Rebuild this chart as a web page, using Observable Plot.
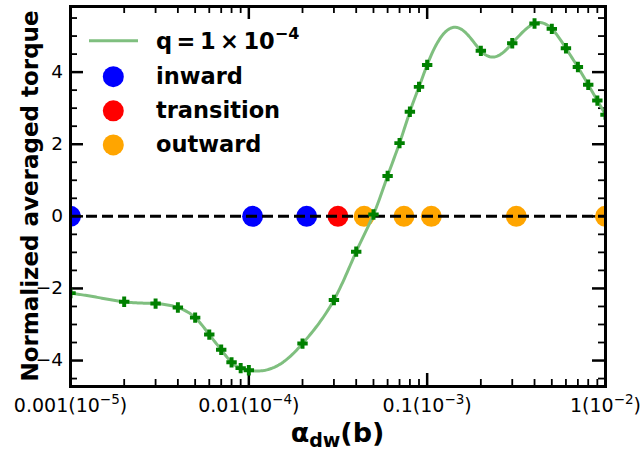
<!DOCTYPE html>
<html>
<head>
<meta charset="utf-8">
<script src="https://cdn.jsdelivr.net/npm/d3@7"></script>
<script src="https://cdn.jsdelivr.net/npm/@observablehq/plot@0.6"></script>
<style>
  html, body { margin: 0; padding: 0; background: white; }
  #chart { width: 644px; height: 452px; }
</style>
</head>
<body>
<div id="chart"></div>
<script>
// ---- data ----
const alphaX = [0.001,0.002,0.003,0.004,0.005,0.006,0.007,0.008,0.009,0.01,0.02,0.03,0.04,0.05,0.06,0.07,0.08,0.09,0.1,0.2,0.3,0.4,0.5,0.6,0.7,0.8,0.9,1.0];
const torqueY = [-2.13,-2.37,-2.42,-2.53,-2.81,-3.28,-3.70,-4.05,-4.21,-4.27,-3.53,-2.32,-0.98,0.05,1.12,2.03,2.90,3.59,4.20,4.59,4.80,5.35,5.20,4.66,4.14,3.65,3.21,2.82];

const stateX = [0.001, 0.0105, 0.0211, 0.0316, 0.0443, 0.0741, 0.1055, 0.316, 1.0];
const stateKind = ["inward","inward","inward","transition","outward","outward","outward","outward","outward"];
const kindNames = ["inward","transition","outward"];
const kindColors = ["#0000ff","#ff0000","#ffa500"];

const xTickValues = [0.001, 0.01, 0.1, 1];
const xTickMain = ["0.001", "0.01", "0.1", "1"];
const xTickExp = ["−5", "−4", "−3", "−2"];
const yTickValues = [-4, -2, 0, 2, 4];
const yTickLabels = ["−4", "−2", "0", "2", "4"];
const yMinorTicks = [-4.5,-3.5,-3,-2.5,-1.5,-1,-0.5,0.5,1,1.5,2.5,3,3.5,4.5,5,5.5];
const minorMultipliers = [2,3,4,5,6,7,8,9];
const decades = [0.001, 0.01, 0.1];
const xDomain = [0.001, 1];

// ---- tables built from the arrays ----
const curve = alphaX.map((x, i) => ({x, y: torqueY[i]}));
const states = stateX.map((x, i) => ({x, y: 0, kind: stateKind[i]}));
const xMinorTicks = decades.flatMap(d => minorMultipliers.map(m => +(m * d).toPrecision(3)));

const W = 644, H = 452, mL = 70, mR = 39, mT = 6, mB = 66;
const frameH = H - mT - mB, frameW = W - mL - mR;
const majorLen = 13, minorLen = 7;
const pxPerDecade = frameW / Math.log10(xDomain[1] / xDomain[0]);

// natural cubic spline of y against linear alpha (screen x is log alpha),
// rendered as a smooth path through the data points
function splineCurve(context) {
  let xs, ys;
  return {
    areaStart() {}, areaEnd() {},
    lineStart() { xs = []; ys = []; },
    point(x, y) { xs.push(+x); ys.push(+y); },
    lineEnd() {
      const n = xs.length;
      if (!n) return;
      context.moveTo(xs[0], ys[0]);
      if (n < 3) { if (n === 2) context.lineTo(xs[1], ys[1]); return; }
      const toT = px => Math.pow(10, (px - xs[0]) / pxPerDecade);
      const ts = xs.map(toT);
      const h = [], M = new Array(n).fill(0);
      for (let i = 0; i < n - 1; i++) h[i] = ts[i + 1] - ts[i];
      const a = [], b = [], c = [], r = [];
      for (let i = 1; i < n - 1; i++) {
        a[i] = h[i - 1]; b[i] = 2 * (h[i - 1] + h[i]); c[i] = h[i];
        r[i] = 6 * ((ys[i + 1] - ys[i]) / h[i] - (ys[i] - ys[i - 1]) / h[i - 1]);
      }
      for (let i = 2; i < n - 1; i++) {
        const m = a[i] / b[i - 1];
        b[i] -= m * c[i - 1]; r[i] -= m * r[i - 1];
      }
      for (let i = n - 2; i >= 1; i--) {
        M[i] = (r[i] - (i + 1 < n - 1 ? c[i] * M[i + 1] : 0)) / b[i];
      }
      for (let i = 0; i < n - 1; i++) {
        const steps = Math.max(4, Math.ceil((xs[i + 1] - xs[i]) / 1.5));
        for (let k = 1; k <= steps; k++) {
          const px = xs[i] + (xs[i + 1] - xs[i]) * k / steps;
          const t = toT(px);
          const A = (ts[i + 1] - t) / h[i], B = (t - ts[i]) / h[i];
          const py = A * ys[i] + B * ys[i + 1] + ((A * A * A - A) * M[i] + (B * B * B - B) * M[i + 1]) * h[i] * h[i] / 6;
          context.lineTo(px, py);
        }
      }
    }
  };
}

// filled plus ("P") marker
const plusSymbol = {
  draw(ctx, size) {
    const r = Math.sqrt(size / Math.PI);
    const a = r, b = r * 0.38;
    ctx.moveTo(-b, -a); ctx.lineTo(b, -a); ctx.lineTo(b, -b); ctx.lineTo(a, -b);
    ctx.lineTo(a, b); ctx.lineTo(b, b); ctx.lineTo(b, a); ctx.lineTo(-b, a);
    ctx.lineTo(-b, b); ctx.lineTo(-a, b); ctx.lineTo(-a, -b); ctx.lineTo(-b, -b);
    ctx.closePath();
  }
};

const svg = Plot.plot({
  width: W, height: H,
  marginLeft: mL, marginRight: mR, marginTop: mT, marginBottom: mB,
  style: {fontFamily: "DejaVu Sans", background: "white", color: "black"},
  x: {type: "log", domain: xDomain},
  y: {domain: [-4.72, 5.82]},
  color: {domain: kindNames, range: kindColors},
  marks: [
    Plot.ruleX(xTickValues, {x: d => d, insetTop: frameH - majorLen, stroke: "black", strokeWidth: 2.5}),
    Plot.ruleX(xTickValues, {x: d => d, insetBottom: frameH - majorLen, stroke: "black", strokeWidth: 2.5}),
    Plot.ruleX(xMinorTicks, {x: d => d, insetTop: frameH - minorLen, stroke: "black", strokeWidth: 1.8}),
    Plot.ruleX(xMinorTicks, {x: d => d, insetBottom: frameH - minorLen, stroke: "black", strokeWidth: 1.8}),
    Plot.ruleY(yTickValues, {y: d => d, insetRight: frameW - majorLen, stroke: "black", strokeWidth: 2.5}),
    Plot.ruleY(yTickValues, {y: d => d, insetLeft: frameW - majorLen, stroke: "black", strokeWidth: 2.5}),
    Plot.ruleY(yMinorTicks, {y: d => d, insetRight: frameW - minorLen, stroke: "black", strokeWidth: 1.8}),
    Plot.ruleY(yMinorTicks, {y: d => d, insetLeft: frameW - minorLen, stroke: "black", strokeWidth: 1.8}),
    Plot.dot(states, {x: "x", y: "y", r: 10.5, fill: "kind", stroke: null, clip: true}),
    Plot.ruleY([0], {stroke: "black", strokeWidth: 3, strokeDasharray: "11,5"}),
    Plot.line(curve, {x: "x", y: "y", curve: splineCurve, stroke: "#7fbf7f", strokeWidth: 3, clip: true}),
    Plot.dot(curve, {x: "x", y: "y", r: 5.2, symbol: plusSymbol, fill: "#008000", stroke: null, clip: true}),
    Plot.axisX({ticks: xTickValues, tickFormat: d => { const i = xTickValues.indexOf(d); return `${xTickMain[i]}(10${xTickExp[i]})`; }, tickSize: 0, tickPadding: 12, fontSize: 19, label: null}),
    Plot.axisY({ticks: yTickValues, tickFormat: d => yTickLabels[yTickValues.indexOf(d)], tickSize: 0, tickPadding: 7.5, fontSize: 18.5, label: null}),
    Plot.frame({stroke: "black", strokeWidth: 3})
  ]
});

document.getElementById("chart").appendChild(svg);

const s = d3.select(svg);

// x tick labels as base + superscript
s.selectAll('g[aria-label="x-axis tick label"] text').each(function() {
  const t = d3.select(this);
  const txt = t.text();
  const i = xTickMain.findIndex((m, k) => txt === `${m}(10${xTickExp[k]})`);
  if (i < 0) return;
  t.text(null);
  t.append("tspan").text(`${xTickMain[i]}(10`);
  t.append("tspan").attr("font-size", 13.5).attr("dy", -8).text(xTickExp[i]);
  t.append("tspan").attr("dy", 8).text(")");
});

const bold = s.append("g").attr("font-family", "DejaVu Sans").attr("font-weight", "bold").attr("fill", "black");

// x label
const xl = bold.append("text").attr("x", mL + frameW / 2).attr("y", 442).attr("text-anchor", "middle").attr("font-size", 27);
xl.append("tspan").text("α");
xl.append("tspan").attr("font-size", 19).attr("dy", 5).text("dw");
xl.append("tspan").attr("dy", -5).text("(b)");

// y label
bold.append("text")
  .attr("transform", `translate(37.5,${mT + frameH / 2}) rotate(-90)`)
  .attr("text-anchor", "middle").attr("font-size", 23)
  .text("Normalized averaged torque");

// legend
const lg = bold.append("g").attr("font-size", 22.5).attr("text-anchor", "start");
lg.append("line").attr("x1", 89).attr("x2", 138).attr("y1", 40.7).attr("y2", 40.7)
  .attr("stroke", "#7fbf7f").attr("stroke-width", 3);
const qt = lg.append("text").attr("x", 156).attr("y", 49);
qt.append("tspan").text("q\u2009=\u20091\u2009×\u200910");
qt.append("tspan").attr("font-size", 16).attr("dy", -10).text("−4");
kindNames.forEach((k, i) => {
  const cy = 76.7 + i * 34.1;
  lg.append("circle").attr("cx", 113.3).attr("cy", cy).attr("r", 10.5).attr("fill", kindColors[i]);
  lg.append("text").attr("x", 156).attr("y", cy + 6.8).text(k);
});
</script>
</body>
</html>
